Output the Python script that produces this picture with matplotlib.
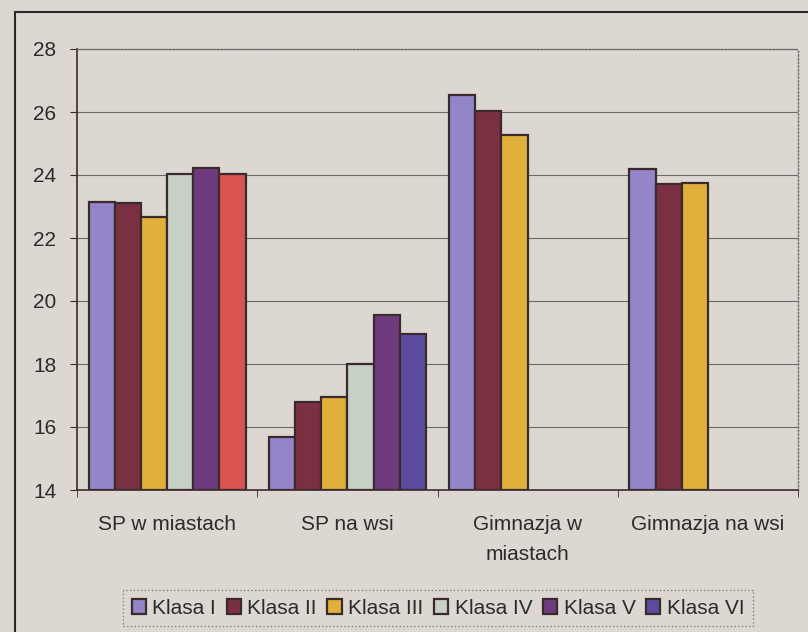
import numpy as np
import matplotlib
matplotlib.use('Agg')
import matplotlib.pyplot as plt
from matplotlib.patches import Rectangle

categories = ['SP w miastach', 'SP na wsi', 'Gimnazja w\nmiastach', 'Gimnazja na wsi']
series = ['Klasa I', 'Klasa II', 'Klasa III', 'Klasa IV', 'Klasa V', 'Klasa VI']
# wartości (gimnazja mają tylko 3 klasy)
klasa_1 = [23.15, 15.67, 26.55, 24.18]
klasa_2 = [23.12, 16.78, 26.04, 23.70]
klasa_3 = [22.68, 16.96, 25.26, 23.74]
klasa_4 = [24.02, 18.01, np.nan, np.nan]
klasa_5 = [24.23, 19.57, np.nan, np.nan]
klasa_6 = [24.02, 18.96, np.nan, np.nan]
values = [klasa_1, klasa_2, klasa_3, klasa_4, klasa_5, klasa_6]

colors = ['#9385c8', '#7b3042', '#e0b03a', '#c6d0c4', '#6e3b7e', '#5b4c9e']
bg = '#dcd8d1'
edge = '#3a2a2e'
txt = '#2b2b2b'

plt.rcParams['font.family'] = ['Liberation Sans', 'DejaVu Sans']

fig = plt.figure(figsize=(8.08, 6.32), dpi=100, facecolor=bg)
ax = fig.add_axes([77/808, 1 - 490/632, (798-77)/808, (490-49)/632])
ax.set_facecolor(bg)

x = np.arange(len(categories))
w = 0.145
containers = []
for i, (name, vals) in enumerate(zip(series, values)):
    bars = ax.bar(x + (i - 2.5) * w, np.array(vals) - 14, w, bottom=14,
                  color=colors[i], edgecolor=edge, linewidth=1.6, label=name, zorder=3)
    containers.append(bars)

ax.set_ylim(14, 28)
ax.set_xlim(-0.5, 3.5)
ax.set_yticks(range(14, 29, 2))
ax.set_xticks(x)
ax.set_xticklabels(categories, fontsize=15, color=txt, linespacing=1.75)
ax.set_xticks(np.arange(-0.5, 4, 1), minor=True)
ax.tick_params(axis='x', which='major', length=0, pad=18)
ax.tick_params(axis='x', which='minor', length=5, direction='out', color=edge)
ax.tick_params(axis='y', labelsize=15, labelcolor=txt, length=5, color=edge, pad=10)
ax.yaxis.grid(True, color='#6a6a6a', linewidth=0.8, zorder=0)

for s in ['left', 'bottom']:
    ax.spines[s].set_color(edge)
    ax.spines[s].set_linewidth(1.2)
for s in ['top', 'right']:
    ax.spines[s].set_color('#6a6a6a')
    ax.spines[s].set_linestyle(':')
    ax.spines[s].set_linewidth(1.0)

leg = fig.legend(loc='center', bbox_to_anchor=(438/808, 1 - 608/632), ncol=6,
                 fontsize=15, frameon=True, fancybox=False, handlelength=0.7,
                 handleheight=0.7, handletextpad=0.3, columnspacing=0.5,
                 borderpad=0.4, labelcolor=txt)
leg.get_frame().set_facecolor(bg)
leg.get_frame().set_edgecolor('#6a6a6a')
leg.get_frame().set_linestyle(':')
leg.get_frame().set_linewidth(1.0)

# w druku pierwszy słupek klasy VI jest czerwony (legenda zostaje niebieska)
containers[5][0].set_facecolor('#d9534f')

# ramka wokół całego wykresu
fig.patches.append(Rectangle((15/808, -0.1), 1.0, 1 - 12/632 + 0.1, transform=fig.transFigure,
                             fill=False, edgecolor='#2a2a2a', linewidth=1.5))

fig.savefig('out.png', dpi=100, facecolor=bg)
